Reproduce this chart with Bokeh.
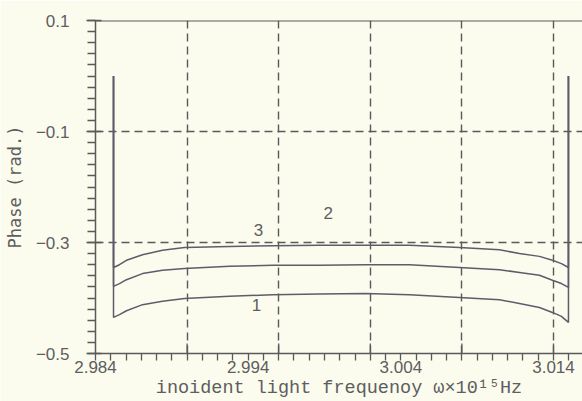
from bokeh.plotting import figure
from bokeh.models import (FixedTicker, Span, LabelSet, ColumnDataSource,
                          Range1d)
from bokeh.core.properties import value
from bokeh.embed import file_html
from bokeh.resources import INLINE
import numpy as np

# incident light frequency (x10^15 Hz); first/last points are the tops of the edge drops
freq = [2.98518, 2.98518, 2.98557, 2.98603, 2.98708, 2.98839, 2.98983, 2.99278,
        2.99559, 2.99867, 3.00169, 3.00457, 3.00784, 3.01046, 3.01177, 3.01308,
        3.01393, 3.01452, 3.01498, 3.01498]

# phase (rad.) of the three curves
phase_1 = [0.0, -0.435, -0.430, -0.423, -0.412, -0.406, -0.401, -0.397, -0.394,
           -0.393, -0.392, -0.394, -0.399, -0.403, -0.410, -0.417, -0.426,
           -0.433, -0.444, 0.0]
phase_2 = [0.0, -0.379, -0.374, -0.367, -0.356, -0.350, -0.347, -0.343, -0.341,
           -0.341, -0.340, -0.340, -0.345, -0.349, -0.354, -0.359, -0.368,
           -0.374, -0.381, 0.0]
phase_3 = [0.0, -0.345, -0.340, -0.332, -0.322, -0.314, -0.309, -0.307, -0.306,
           -0.305, -0.305, -0.305, -0.309, -0.313, -0.320, -0.325, -0.332,
           -0.338, -0.345, 0.0]

# curve annotations
curve_names = ["1", "2", "3"]
curve_name_x = [2.99455, 2.99925, 2.99468]
curve_name_y = [-0.4135, -0.246, -0.278]

# axis ticks
x_label_ticks = [2.984, 2.994, 3.004, 3.014]
x_grid_ticks = [2.990, 2.996, 3.002, 3.008, 3.014]
y_label_ticks = [-0.5, -0.3, -0.1, 0.1]
y_label_text = ["\u22120.5", "\u22120.3", "\u22120.1", "0.1"]
y_grid_ticks = [-0.3, -0.1]

x_title = "inoident light frequenoy \u03c9\u00d710\u00b9\u2075Hz"
y_title = "Phase (rad.)"

paper = "#fbfbee"
ink = "#5a5a5a"
curve_ink = "#5f5c6a"
text_ink = "#5e5e5e"

p = figure(width=582, height=401, x_range=Range1d(2.984, 3.0159),
           y_range=Range1d(-0.5, 0.1), output_backend="svg",
           toolbar_location=None, min_border_left=95, min_border_right=0,
           min_border_top=20, min_border_bottom=48)
p.background_fill_color = paper
p.border_fill_color = paper
p.outline_line_color = None

# x axis: labels every 0.01, small ticks every 0.001
xminor = [round(v, 3) for v in np.arange(2.984, 3.0159, 0.001)]
xa = p.xaxis[0]
xa.ticker = FixedTicker(ticks=x_label_ticks, minor_ticks=xminor)
xa.major_tick_in = 0
xa.major_tick_out = 0
xa.minor_tick_in = 0
xa.minor_tick_out = 7
xa.axis_line_width = 1.5
xa.axis_line_color = ink
xa.minor_tick_line_color = ink
xa.minor_tick_line_width = 1.3
xa.major_label_standoff = 0
xa.major_label_text_font = "Liberation Sans"
xa.major_label_text_font_size = "17px"
xa.major_label_text_color = text_ink
xa.axis_label = x_title
xa.axis_label_text_font = "Liberation Mono"
xa.axis_label_text_font_size = "18.5px"
xa.axis_label_text_font_style = "normal"
xa.axis_label_text_color = text_ink
xa.axis_label_standoff = 2

# y axis
ya = p.yaxis[0]
yminor = [round(v, 2) for v in np.arange(-0.5, 0.101, 0.02)]
ya.ticker = FixedTicker(ticks=y_label_ticks, minor_ticks=yminor)
ya.major_label_overrides = {t: s for t, s in zip(y_label_ticks, y_label_text)}
ya.major_tick_in = 6
ya.major_tick_out = 9
ya.minor_tick_in = 0
ya.minor_tick_out = 8
ya.axis_line_width = 1.5
ya.axis_line_color = ink
ya.major_tick_line_color = ink
ya.minor_tick_line_color = ink
ya.major_tick_line_width = 1.3
ya.minor_tick_line_width = 1.3
ya.major_label_standoff = 17
ya.major_label_text_font = "Liberation Sans"
ya.major_label_text_font_size = "17px"
ya.major_label_text_color = text_ink
ya.axis_label = y_title
ya.axis_label_text_font = "DejaVu Sans Mono"
ya.axis_label_text_font_size = "17px"
ya.axis_label_text_font_style = "normal"
ya.axis_label_text_color = text_ink
ya.axis_label_standoff = 8

# dashed grid
p.xgrid.ticker = FixedTicker(ticks=x_grid_ticks)
p.ygrid.ticker = FixedTicker(ticks=y_grid_ticks)
for g in (p.xgrid[0], p.ygrid[0]):
    g.grid_line_color = ink
    g.grid_line_dash = "8 5"
    g.grid_line_width = 1.4

# tall tick marks at the grid positions on the bottom axis
p.segment(x0=x_grid_ticks, x1=x_grid_ticks, y0=-0.5, y1=-0.482,
          line_color=ink, line_width=1.3)

# top border
p.add_layout(Span(location=0.1, dimension="width", line_color=ink,
                  line_width=1.8))

for ph in (phase_1, phase_2, phase_3):
    p.line(freq, ph, line_color=curve_ink, line_width=1.5)

src = ColumnDataSource(dict(x=curve_name_x, y=curve_name_y, t=curve_names))
p.add_layout(LabelSet(x="x", y="y", text="t", source=src,
                      text_font=value("Liberation Sans"),
                      text_font_size="17px", text_color=text_ink,
                      text_align="center", text_baseline="middle"))

open("out.html", "w").write(file_html(p, INLINE))
